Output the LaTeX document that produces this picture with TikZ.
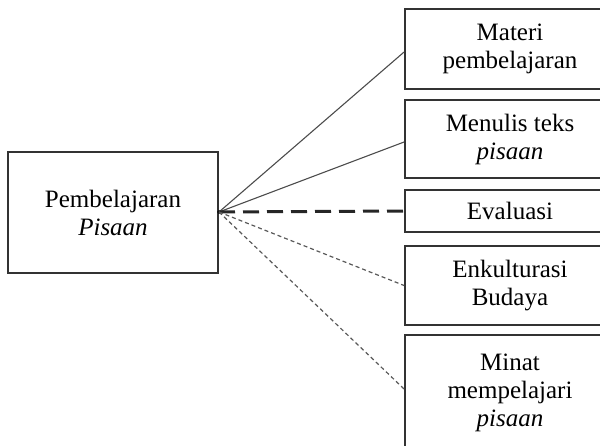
\documentclass[tikz,border=0pt]{standalone}
\usepackage{fontspec}
\setmainfont{Liberation Serif}
\begin{document}
\begin{tikzpicture}[x=1pt,y=-1pt,
  box/.style={draw=black!80, line width=1.8pt, rectangle, inner sep=0pt, align=center,
     font=\fontsize{25}{28}\selectfont, text=black},
  solidlink/.style={draw=black!70, line width=1.1pt},
  thickdash/.style={draw=black!85, line width=3pt, dash pattern=on 16pt off 8pt},
  thindash/.style={draw=black!65, line width=1.2pt, dash pattern=on 4pt off 3pt}]
\useasboundingbox (0,0) rectangle (600,446);
\clip (0,0) rectangle (600,446);
\node[box, minimum width=210pt, minimum height=121pt] (main) at (113,212.5) {Pembelajaran\\\textit{Pisaan}};
\node[box, minimum width=210pt, minimum height=80pt] (b1) at (510,49) {Materi\\pembelajaran};
\node[box, minimum width=210pt, minimum height=78pt] (b2) at (510,139) {Menulis teks\\\textit{pisaan}};
\node[box, minimum width=210pt, minimum height=42pt] (b3) at (510,211) {Evaluasi};
\node[box, minimum width=210pt, minimum height=79pt] (b4) at (510,285.5) {Enkulturasi\\Budaya};
\node[box, minimum width=210pt, minimum height=116pt] (b5) at (510,393) {Minat\\mempelajari\\\textit{pisaan}};
\coordinate (o) at (219,212);
\fill[black] (o) circle (1.8pt);
\draw[solidlink] (o) -- ([yshift=-3pt]b1.west);
\draw[solidlink] (o) -- ([yshift=-3pt]b2.west);
\draw[thickdash] (o) -- (b3.west);
\draw[thindash] (o) -- (b4.west);
\draw[thindash] (o) -- ([yshift=4pt]b5.west);
\end{tikzpicture}
\end{document}
